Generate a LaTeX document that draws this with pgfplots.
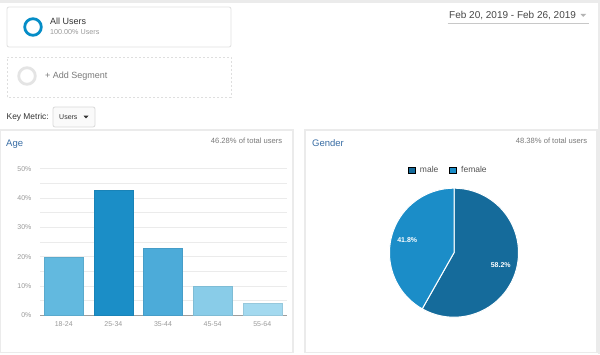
\documentclass[border=0pt]{standalone}
\usepackage{pgfplots}
\pgfplotsset{compat=1.18}
\usepackage{pgfplotstable}
\usepackage{fontspec}
\setmainfont{Liberation Sans}
\definecolor{gablue}{HTML}{058DC7}
\definecolor{frame}{HTML}{EBEBEB}
\definecolor{gridc}{HTML}{EBEBEB}
\definecolor{axisc}{HTML}{9E9E9E}
\definecolor{titleblue}{HTML}{3A6EA5}
\definecolor{greytext}{HTML}{7A7A7A}
\definecolor{ticktext}{HTML}{9A9A9A}
\definecolor{darktext}{HTML}{333333}
\definecolor{boxline}{HTML}{E0E0E0}
\definecolor{dashline}{HTML}{DEDEDE}
\definecolor{ringgrey}{HTML}{E4E4E4}
\definecolor{ddline}{HTML}{DADADA}
\definecolor{ddfill}{HTML}{FAFAFA}
\definecolor{triag}{HTML}{B4B4B4}
\definecolor{uline}{HTML}{C8C8C8}
\definecolor{barA}{HTML}{62B9DF}
\definecolor{barB}{HTML}{1B8EC7}
\definecolor{barC}{HTML}{4CABD9}
\definecolor{barD}{HTML}{89CCE8}
\definecolor{barE}{HTML}{A3D9EF}
\definecolor{male}{HTML}{156B9B}
\definecolor{female}{HTML}{1B8DC8}

\pgfplotstableread{
gender value
male 58.2
female 41.8
}\gendertable

\newcommand{\fs}[1]{\fontsize{#1}{#1}\selectfont}

\begin{document}
\begin{tikzpicture}
% canvas
\fill[white] (0,0) rectangle (600pt,354pt);
\fill[frame] (0,351pt) rectangle (600pt,354pt);
\fill[frame] (597.5pt,0) rectangle (600pt,354pt);
% panels
\draw[frame, line width=1.2pt] (0.6pt,1.5pt) rectangle (293pt,224pt);
\draw[frame, line width=1.2pt] (305pt,1.5pt) rectangle (597pt,224pt);

% segment boxes
\draw[boxline, line width=0.8pt, rounded corners=2pt] (7pt,307pt) rectangle (231pt,347pt);
\draw[gablue, line width=2.8pt] (33pt,327pt) circle (8.3pt);
\node[anchor=base west, inner sep=0pt, text=darktext, font=\fs{9}] at (50pt,329pt) {All Users};
\node[anchor=base west, inner sep=0pt, text=ticktext, font=\fs{7.2}] at (50pt,319pt) {100.00\% Users};

\draw[dashline, line width=0.8pt, dash pattern=on 2pt off 2pt] (7pt,257pt) rectangle (231pt,297pt);
\draw[ringgrey, line width=2.8pt] (27pt,278pt) circle (8.3pt);
\node[anchor=base west, inner sep=0pt, text=greytext, font=\fs{9}] at (45pt,275pt) {+ Add Segment};

% key metric
\node[anchor=base west, inner sep=0pt, text=darktext, font=\fs{8.4}] at (6.5pt,234pt) {Key Metric:};
\draw[ddline, fill=ddfill, line width=0.8pt, rounded corners=2pt] (53pt,227pt) rectangle (95pt,247pt);
\node[anchor=base west, inner sep=0pt, text=darktext, font=\fs{7}] at (59pt,234.5pt) {Users};
\fill[darktext] (83.5pt,238.3pt) -- (88.5pt,238.3pt) -- (86pt,235.6pt) -- cycle;

% date range
\node[anchor=base west, inner sep=0pt, text=darktext!90, font=\fs{10}] at (449pt,335.5pt) {Feb 20, 2019 - Feb 26, 2019};
\fill[triag] (580.5pt,340pt) -- (586pt,340pt) -- (583.25pt,337.2pt) -- cycle;
\draw[uline, line width=1pt] (447.5pt,330pt) -- (589pt,330pt);

% panel titles
\node[anchor=base west, inner sep=0pt, text=titleblue, font=\fs{9.5}] at (6pt,207.5pt) {Age};
\node[anchor=base east, inner sep=0pt, text=greytext, font=\fs{7.6}] at (282.5pt,210pt) {46.28\% of total users};
\node[anchor=base west, inner sep=0pt, text=titleblue, font=\fs{9.5}] at (312pt,207.5pt) {Gender};
\node[anchor=base east, inner sep=0pt, text=greytext, font=\fs{7.6}] at (587.5pt,210pt) {48.38\% of total users};

% age bar chart
\begin{axis}[
  at={(40pt,38.7pt)}, anchor=south west,
  scale only axis, width=247pt, height=146.6pt,
  xmin=-0.48, xmax=4.5, ymin=0, ymax=50,
  ytick={0,10,...,50}, minor ytick={5,15,...,45},
  ymajorgrids, yminorgrids,
  major grid style={gridc, line width=0.6pt},
  minor grid style={gridc, line width=0.6pt},
  xtick={0,...,4}, xticklabels={18-24,25-34,35-44,45-54,55-64},
  major tick length=0pt, minor tick length=0pt,
  axis x line*=bottom, axis y line*=left,
  y axis line style={draw=none},
  x axis line style={draw=axisc, line width=0.8pt, -},
  /pgf/number format/assume math mode=true,
  yticklabel={\pgfmathprintnumber{\tick}\%},
  yticklabel style={font=\fs{7}, text=ticktext, xshift=-5pt},
  xticklabel style={font=\fs{7}, text=ticktext, yshift=-3pt},
  ybar, bar width=39pt,
]
\addplot[fill=barA, draw=barA!92!black, line width=0.4pt, bar shift=0pt] coordinates {(0,19.8)};
\addplot[fill=barB, draw=barB!92!black, line width=0.4pt, bar shift=0pt] coordinates {(1,42.7)};
\addplot[fill=barC, draw=barC!92!black, line width=0.4pt, bar shift=0pt] coordinates {(2,22.9)};
\addplot[fill=barD, draw=barD!92!black, line width=0.4pt, bar shift=0pt] coordinates {(3,10.0)};
\addplot[fill=barE, draw=barE!92!black, line width=0.4pt, bar shift=0pt] coordinates {(4,4.1)};
\end{axis}

% gender pie
\pgfplotstablegetelem{0}{value}\of\gendertable
\pgfmathsetmacro\maleval{\pgfplotsretval}
\pgfplotstablegetelem{1}{value}\of\gendertable
\pgfmathsetmacro\femaleval{\pgfplotsretval}
\pgfmathsetmacro\angA{90-3.6*\maleval}
\pgfmathsetmacro\angB{\angA-3.6*\femaleval}
\pgfmathsetmacro\midA{(90+\angA)/2}
\pgfmathsetmacro\midB{(\angA+\angB)/2}
\begin{axis}[
  at={(389.5pt,36.8pt)}, anchor=south west,
  scale only axis, width=129pt, height=129pt,
  xmin=-1, xmax=1, ymin=-1, ymax=1,
  hide axis, clip=false,
  legend image code/.code={\fill[#1] (0pt,-3.2pt) rectangle (6.4pt,3.2pt);},
  legend columns=2,
  legend style={draw=none, fill=none, at={(0.457,1)}, anchor=south, yshift=12pt,
    font=\fs{8.5}, text=darktext!85, inner sep=0pt,
    /tikz/every odd column/.append style={column sep=3pt},
    /tikz/every even column/.append style={column sep=9pt}},
]
\addlegendimage{fill=male}
\addlegendentry{male}
\addlegendimage{fill=female}
\addlegendentry{female}
\addplot[fill=male, draw=white, line width=1pt, domain=\angA:90, samples=120, variable=\t]
  ({cos(\t)},{sin(\t)}) -- (axis cs:0,0) -- cycle;
\addplot[fill=female, draw=white, line width=1pt, domain=\angB:\angA, samples=120, variable=\t]
  ({cos(\t)},{sin(\t)}) -- (axis cs:0,0) -- cycle;
\node[text=white, font=\bfseries\fs{7}] at (axis cs:{0.75*cos(\midA)},{0.75*sin(\midA)}) {58.2\%};
\node[text=white, font=\bfseries\fs{7}] at (axis cs:{0.75*cos(\midB)},{0.75*sin(\midB)}) {41.8\%};
\end{axis}
\end{tikzpicture}
\end{document}
